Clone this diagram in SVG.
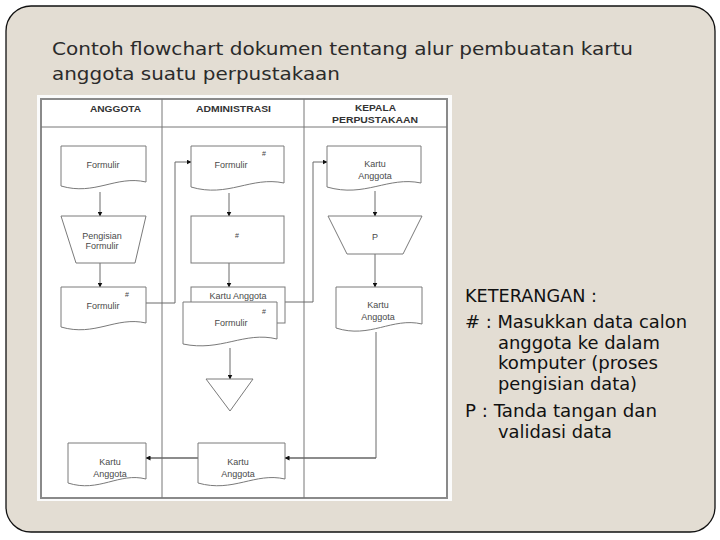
<svg xmlns="http://www.w3.org/2000/svg" width="720" height="540" viewBox="0 0 720 540">
<defs>
<style>
.title{font-family:"DejaVu Sans",Verdana,sans-serif;font-size:17px;fill:#2b2b2b}
.ket{font-family:"DejaVu Sans",Verdana,sans-serif;font-size:17px;fill:#111}
.hdr{font-family:"Liberation Sans",Arial,sans-serif;font-size:8.5px;font-weight:bold;fill:#333}
.lbl{font-family:"Liberation Sans",Arial,sans-serif;font-size:9px;fill:#4a4a4a;text-anchor:middle}
.hash{font-family:"Liberation Sans",Arial,sans-serif;font-size:7px;fill:#444;text-anchor:middle}
.shape{fill:#fff;stroke:#7a7a7a;stroke-width:1}
.conn{fill:none;stroke:#6a6a6a;stroke-width:1}
.connb{fill:none;stroke:#666;stroke-width:1.6}
</style>
<marker id="ah" viewBox="0 0 10 10" refX="9" refY="5" markerWidth="5" markerHeight="5" markerUnits="userSpaceOnUse" orient="auto">
<path d="M0 0 L10 5 L0 10 Z" fill="#111"/>
</marker>
</defs>

<rect x="0" y="0" width="720" height="540" fill="#fff"/>
<rect x="6" y="6" width="709" height="526" rx="25" ry="25" fill="#e3ddd3" stroke="#111" stroke-width="1.3"/>

<g id="title">
<text class="title" x="52" y="55" textLength="581" lengthAdjust="spacingAndGlyphs">Contoh flowchart dokumen tentang alur pembuatan kartu</text>
<text class="title" x="52" y="80" textLength="288" lengthAdjust="spacingAndGlyphs">anggota suatu perpustakaan</text>
</g>

<g id="table">
<rect x="37" y="95" width="415" height="406" fill="#fbfbfb"/>
<rect x="41" y="99" width="406" height="399" fill="#fff" stroke="#8a8a8a" stroke-width="2"/>
<line x1="41" y1="127" x2="447" y2="127" stroke="#777" stroke-width="1"/>
<line x1="162" y1="99" x2="162" y2="498" stroke="#777" stroke-width="1"/>
<line x1="304" y1="99" x2="304" y2="498" stroke="#777" stroke-width="1"/>
<text class="hdr" x="90" y="112" textLength="51" lengthAdjust="spacingAndGlyphs">ANGGOTA</text>
<text class="hdr" x="196" y="112" textLength="75" lengthAdjust="spacingAndGlyphs">ADMINISTRASI</text>
<text class="hdr" x="355" y="111" textLength="41" lengthAdjust="spacingAndGlyphs">KEPALA</text>
<text class="hdr" x="332" y="123" textLength="86" lengthAdjust="spacingAndGlyphs">PERPUSTAKAAN</text>
</g>

<g id="connectors">
<line class="conn" x1="100" y1="192" x2="100" y2="216" marker-end="url(#ah)"/>
<line class="conn" x1="100" y1="263" x2="100" y2="287" marker-end="url(#ah)"/>
<path class="conn" d="M146 303 H175 V162 H191" marker-end="url(#ah)"/>
<line class="conn" x1="229" y1="193" x2="229" y2="216" marker-end="url(#ah)"/>
<line class="conn" x1="229" y1="263" x2="229" y2="287" marker-end="url(#ah)"/>
<line class="conn" x1="230" y1="348" x2="230" y2="379" marker-end="url(#ah)"/>
<path class="conn" d="M285 302 H313 V162 H327" marker-end="url(#ah)"/>
<line class="conn" x1="375" y1="191" x2="375" y2="216" marker-end="url(#ah)"/>
<line class="conn" x1="375" y1="254" x2="375" y2="287" marker-end="url(#ah)"/>
<path class="conn" d="M376 332 V458"/>
<path class="connb" d="M376 458 H285" marker-end="url(#ah)"/>
<path class="connb" d="M198 458 H146" marker-end="url(#ah)"/>
</g>

<g id="n-anggota-formulir">
<path class="shape" d="M61 146 H146 V182 C116 175 95 196 61 186 Z"/>
<text class="lbl" x="103" y="168">Formulir</text>
</g>
<g id="n-pengisian">
<path class="shape" d="M61 216 H146 L135 263 H76 Z"/>
<text class="lbl" x="102" y="239">Pengisian</text>
<text class="lbl" x="102" y="249">Formulir</text>
</g>
<g id="n-anggota-formulir2">
<path class="shape" d="M61 287 H146 V323 C116 316 95 337 61 327 Z"/>
<text class="lbl" x="103" y="309">Formulir</text>
<text class="hash" x="127" y="297">#</text>
</g>
<g id="n-anggota-kartu">
<path class="shape" d="M68 443 H146 V479 C119 472 99 493 68 483 Z"/>
<text class="lbl" x="110" y="465">Kartu</text>
<text class="lbl" x="110" y="477">Anggota</text>
</g>

<g id="n-admin-formulir">
<path class="shape" d="M191 146 H284 V183 C251 176 228 198 191 187 Z"/>
<text class="lbl" x="231" y="168">Formulir</text>
<text class="hash" x="264" y="156">#</text>
</g>
<g id="n-admin-proses">
<rect class="shape" x="191" y="216" width="93" height="47"/>
<text class="hash" x="237" y="238" font-size="8">#</text>
</g>
<g id="n-admin-kartu-back">
<rect class="shape" x="191" y="287" width="94" height="36"/>
<text class="lbl" x="238" y="299">Kartu Anggota</text>
</g>
<g id="n-admin-formulir-front">
<path class="shape" d="M183 302 H277 V339 C244 331 221 352 183 344 Z"/>
<text class="lbl" x="231" y="326">Formulir</text>
<text class="hash" x="264" y="314">#</text>
</g>
<g id="n-admin-arsip">
<path class="shape" d="M206 379 H253 L230 411 Z"/>
</g>
<g id="n-admin-kartu">
<path class="shape" d="M198 443 H285 V479 C255 472 233 493 198 483 Z"/>
<text class="lbl" x="238" y="465">Kartu</text>
<text class="lbl" x="238" y="477">Anggota</text>
</g>

<g id="n-kepala-kartu">
<path class="shape" d="M327 146 H421 V183 C388 176 365 198 327 187 Z"/>
<text class="lbl" x="375" y="167">Kartu</text>
<text class="lbl" x="375" y="179">Anggota</text>
</g>
<g id="n-kepala-p">
<path class="shape" d="M328 216 H422 L403 254 H347 Z"/>
<text class="lbl" x="375" y="240" font-size="10">P</text>
</g>
<g id="n-kepala-kartu2">
<path class="shape" d="M336 287 H422 V324 C392 317 370 339 336 328 Z"/>
<text class="lbl" x="378" y="308">Kartu</text>
<text class="lbl" x="378" y="320">Anggota</text>
</g>

<g id="keterangan">
<text class="ket" x="465" y="302" font-size="14" textLength="132" lengthAdjust="spacingAndGlyphs">KETERANGAN :</text>
<text class="ket" x="465" y="328" textLength="222" lengthAdjust="spacingAndGlyphs"># : Masukkan data calon</text>
<text class="ket" x="498" y="349" textLength="162" lengthAdjust="spacingAndGlyphs">anggota ke dalam</text>
<text class="ket" x="498" y="369" textLength="160" lengthAdjust="spacingAndGlyphs">komputer (proses</text>
<text class="ket" x="498" y="390" textLength="139" lengthAdjust="spacingAndGlyphs">pengisian data)</text>
<text class="ket" x="465" y="417" textLength="192" lengthAdjust="spacingAndGlyphs">P : Tanda tangan dan</text>
<text class="ket" x="498" y="438" textLength="114" lengthAdjust="spacingAndGlyphs">validasi data</text>
</g>
</svg>
